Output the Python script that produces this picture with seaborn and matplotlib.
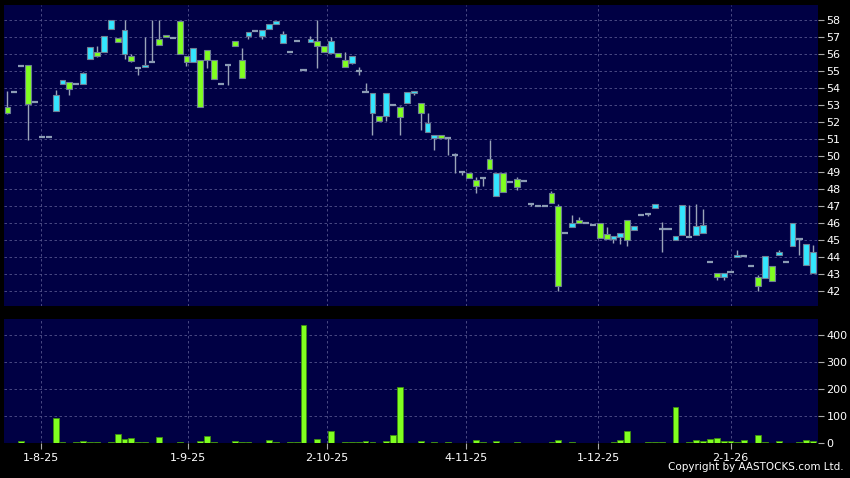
import numpy as np
import pandas as pd
import matplotlib
matplotlib.use("Agg")
import matplotlib.pyplot as plt
import seaborn as sns

# daily candles
opens = [52.53, 53.73, 55.30, 53.02, 53.18, 51.09, 51.09, 53.55, 54.44, 53.91,
         54.20, 54.87, 56.39, 55.91, 57.06, 58.04, 56.72, 57.45, 55.60, 55.19,
         55.38, 55.50, 56.56, 56.98, 56.94, 56.03, 55.50, 56.33, 52.84, 55.62,
         54.50, 54.20, 55.36, 56.50, 54.56, 57.33, 57.35, 57.45, 57.76, 57.94,
         57.17, 56.13, 56.78, 55.03, 56.86, 56.48, 56.11, 56.80, 55.84, 55.26,
         55.86, 55.01, 53.73, 53.67, 52.02, 53.67, 52.96, 52.29, 53.73, 53.79,
         52.49, 51.90, 51.19, 51.03, 51.03, 50.03, 49.05, 48.69, 48.18, 48.64,
         49.19, 48.99, 47.83, 48.41, 48.11, 48.47, 47.12, 47.02, 47.00, 47.20,
         42.27, 45.43, 46.02, 46.02, 46.00, 45.88, 45.12, 45.08, 45.26, 45.43,
         45.02, 45.84, 46.49, 46.55, 47.12, 45.65, 45.65, 45.26, 47.08, 45.18,
         45.82, 45.90, 43.71, 42.80, 43.06, 43.12, 44.10, 44.06, 43.47, 42.29,
         44.04, 42.59, 44.30, 43.73, 46.02, 45.04, 44.79, 44.27]
closes = [52.85, 53.73, 55.30, 55.38, 53.18, 51.09, 51.09, 52.61, 54.20, 54.32,
          54.20, 54.20, 55.72, 56.15, 56.13, 57.51, 56.92, 56.03, 55.87, 55.19,
          55.26, 55.50, 56.86, 57.15, 56.94, 57.98, 55.86, 55.50, 55.62, 56.21,
          55.62, 54.20, 55.36, 56.80, 55.62, 57.08, 57.35, 57.04, 57.49, 57.80,
          56.66, 56.13, 56.78, 55.03, 56.70, 56.80, 56.45, 56.07, 56.09, 55.64,
          55.48, 55.01, 53.73, 52.49, 52.31, 52.35, 52.96, 52.84, 53.08, 53.67,
          53.08, 51.41, 51.03, 51.19, 51.03, 50.03, 49.05, 48.95, 48.54, 48.64,
          49.78, 47.59, 48.95, 48.41, 48.60, 48.47, 47.12, 47.02, 47.00, 47.79,
          47.00, 45.43, 45.78, 46.19, 46.00, 45.88, 45.98, 45.37, 45.08, 45.20,
          46.19, 45.57, 46.49, 46.55, 46.88, 45.65, 45.65, 45.00, 45.31, 45.18,
          45.28, 45.39, 43.71, 43.06, 42.80, 43.12, 44.00, 44.06, 43.47, 42.82,
          42.76, 43.47, 44.10, 43.73, 44.65, 45.04, 43.55, 43.06]
highs = [53.83, 53.73, 55.30, 55.38, 53.18, 51.09, 51.09, 53.87, 54.44, 54.32,
         54.20, 54.95, 56.39, 56.47, 57.06, 58.04, 56.92, 58.00, 56.03, 55.19,
         57.02, 58.04, 58.04, 57.15, 56.94, 57.98, 55.86, 56.33, 55.62, 56.21,
         55.62, 54.20, 55.36, 56.80, 56.33, 57.33, 57.35, 57.45, 57.76, 57.94,
         57.35, 56.13, 56.78, 55.03, 57.06, 58.04, 56.45, 57.02, 56.09, 56.11,
         55.86, 55.25, 54.28, 53.67, 52.31, 53.67, 52.96, 52.90, 53.73, 53.79,
         53.08, 52.49, 51.19, 51.19, 51.03, 50.17, 49.05, 48.95, 48.70, 48.64,
         50.92, 48.99, 48.95, 48.41, 48.75, 48.47, 47.12, 47.02, 47.00, 47.91,
         47.12, 45.43, 46.49, 46.35, 46.00, 45.88, 45.98, 45.78, 45.26, 45.43,
         46.19, 45.84, 46.49, 46.55, 47.12, 46.06, 45.65, 45.26, 47.08, 47.08,
         47.12, 46.82, 43.71, 43.06, 43.06, 43.12, 44.42, 44.06, 43.47, 42.95,
         44.04, 43.47, 44.44, 43.73, 46.02, 45.04, 44.79, 44.69]
lows = [52.45, 53.73, 55.30, 50.92, 53.18, 51.09, 51.09, 52.61, 54.20, 53.59,
        54.20, 54.20, 55.72, 55.84, 56.13, 57.51, 56.72, 55.72, 55.52, 54.75,
        55.26, 55.50, 56.56, 56.98, 56.94, 56.03, 55.32, 55.50, 52.84, 55.17,
        54.50, 54.20, 54.16, 56.50, 54.56, 56.90, 57.35, 56.90, 57.49, 57.80,
        56.66, 56.13, 56.78, 55.03, 56.70, 55.19, 56.11, 56.07, 55.84, 55.26,
        55.42, 54.77, 53.73, 51.23, 52.02, 52.02, 52.96, 51.23, 53.08, 53.60,
        51.51, 51.41, 50.33, 51.03, 50.01, 48.99, 48.85, 48.69, 47.81, 48.19,
        49.19, 47.59, 47.83, 48.41, 47.95, 48.47, 47.00, 47.02, 47.00, 47.20,
        41.98, 45.43, 45.78, 46.02, 46.00, 45.88, 45.12, 45.08, 44.81, 44.75,
        44.65, 45.57, 46.49, 46.45, 46.88, 44.30, 45.65, 45.00, 45.31, 45.18,
        45.28, 45.39, 43.71, 42.62, 42.62, 43.12, 44.00, 44.06, 43.47, 41.99,
        42.76, 42.59, 44.10, 43.73, 44.65, 44.10, 43.55, 43.06]
volume = [1, 1, 7, 1, 1, 1, 1, 91, 4, 1,
          5, 7, 5, 2, 1, 5, 33, 16, 20, 5,
          2, 1, 22, 1, 1, 4, 1, 1, 9, 25,
          4, 1, 1, 7, 5, 5, 1, 1, 12, 4,
          1, 5, 2, 437, 1, 14, 1, 46, 1, 5,
          5, 5, 9, 5, 1, 7, 30, 207, 1, 1,
          6, 1, 5, 1, 4, 1, 1, 1, 12, 2,
          1, 7, 1, 1, 4, 1, 1, 1, 1, 5,
          12, 1, 4, 1, 1, 1, 1, 1, 4, 12,
          46, 1, 1, 4, 5, 4, 1, 134, 1, 5,
          12, 6, 15, 20, 9, 7, 4, 10, 1, 31,
          2, 1, 6, 1, 1, 5, 11, 9]

tick_pos = [4.9, 26.2, 46.4, 66.6, 85.8, 105.0]
tick_labels = ["1-8-25", "1-9-25", "2-10-25", "4-11-25", "1-12-25", "2-1-26"]

df = pd.DataFrame({"open": opens, "close": closes, "high": highs,
                   "low": lows, "volume": volume})
df["day"] = np.arange(len(df))

bg = "#000044"
up_col = "#80ff20"
dn_col = "#33e6ff"
grid_col = "#54548c"
wick_col = "#9aa4b8"

sns.set_style("dark")
plt.rcParams["font.family"] = ["DejaVu Sans"]

fig = plt.figure(figsize=(8.5, 4.78), dpi=100, facecolor="black")
ax1 = fig.add_axes([4 / 850, 172 / 478, 814 / 850, 301 / 478])
ax2 = fig.add_axes([4 / 850, 35 / 478, 814 / 850, 124 / 478])

# candles
ax1.vlines(df["day"], df["low"], df["high"], color=wick_col, lw=1, zorder=2)
doji = df["open"] == df["close"]
body = df[~doji]
ax1.bar(body["day"], (body["close"] - body["open"]).abs(),
        bottom=body[["open", "close"]].min(axis=1), width=0.85,
        color=np.where(body["close"] > body["open"], up_col, dn_col),
        edgecolor="#6e7f95", linewidth=0.8, zorder=3)
dj = df[doji]
ax1.hlines(dj["open"], dj["day"] - 0.45, dj["day"] + 0.45,
           color="#8c9cb4", lw=1.6, zorder=3)

# volume
sns.barplot(data=df, x="day", y="volume", native_scale=True, ax=ax2,
            color=up_col, saturation=1, width=0.85, errorbar=None,
            edgecolor="#3f8f10", linewidth=0.6, zorder=3)

for ax in (ax1, ax2):
    ax.set_facecolor(bg)
    ax.set_xlim(-0.5, 117.7)
    for s in ax.spines.values():
        s.set_visible(False)
    ax.grid(True, color=grid_col, linestyle=(0, (3, 3)), lw=0.6)
    ax.set_axisbelow(True)
    ax.yaxis.tick_right()
    ax.tick_params(axis="y", colors="white", labelsize=8, length=4,
                   width=0.8, pad=2, direction="out", right=True)
    ax.tick_params(axis="y", color="#aaaaaa")
    ax.set_xticks(tick_pos)
    ax.set_xlabel("")
    ax.set_ylabel("")

ax1.set_ylim(41.1, 58.9)
ax1.set_yticks(range(42, 59))
ax1.tick_params(axis="x", length=0, labelbottom=False)

ax2.set_ylim(0, 460)
ax2.set_yticks([0, 100, 200, 300, 400])
ax2.set_xticklabels(tick_labels)
ax2.tick_params(axis="x", colors="white", labelsize=8, length=4,
                color="#aaaaaa", pad=3, bottom=True)

fig.text(0.993, 0.012, "Copyright by AASTOCKS.com Ltd.", color="white",
         fontsize=7.5, ha="right", va="bottom")

fig.savefig("out.png", dpi=100, facecolor="black")
